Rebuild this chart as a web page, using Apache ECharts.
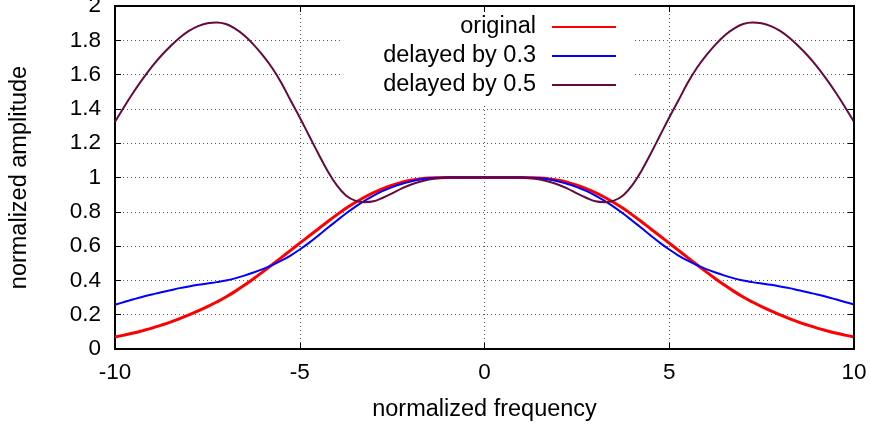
<!DOCTYPE html>
<html><head><meta charset="utf-8">
<script src="https://cdn.jsdelivr.net/npm/echarts@6/dist/echarts.min.js"></script>
<style>html,body{margin:0;padding:0;background:#fff}#c{width:870px;height:428px}</style>
</head><body><div id="c"></div>
<script>
const freq = [-10,-9.75,-9.5,-9.25,-9,-8.75,-8.5,-8.25,-8,-7.75,-7.5,-7.25,-7,-6.75,-6.5,-6.25,-6,-5.75,-5.5,-5.25,
  -5,-4.75,-4.5,-4.25,-4,-3.75,-3.5,-3.25,-3,-2.75,-2.5,-2.25,-2,-1.75,-1.5,-1.25,-1,-0.75,-0.5,-0.25,0,
  0.25,0.5,0.75,1,1.25,1.5,1.75,2,2.25,2.5,2.75,3,3.25,3.5,3.75,4,4.25,4.5,4.75,
  5,5.25,5.5,5.75,6,6.25,6.5,6.75,7,7.25,7.5,7.75,8,8.25,8.5,8.75,9,9.25,9.5,9.75,10];
const original = [0.070,0.081,0.093,0.107,0.122,0.139,0.157,0.177,0.199,0.222,0.247,0.274,0.303,0.336,0.372,0.410,0.450,0.491,0.533,0.575,
  0.617,0.659,0.700,0.742,0.782,0.820,0.854,0.885,0.912,0.935,0.955,0.971,0.984,0.992,0.997,0.999,1,1,1,1,1,
  1,1,1,1,0.999,0.997,0.992,0.984,0.971,0.955,0.935,0.912,0.885,0.854,0.820,0.782,0.742,0.700,0.659,
  0.617,0.575,0.533,0.491,0.450,0.410,0.372,0.336,0.303,0.274,0.247,0.222,0.199,0.177,0.157,0.139,0.122,0.107,0.093,0.081,0.070];
const delayed03 = [0.258,0.274,0.290,0.305,0.318,0.331,0.343,0.355,0.365,0.374,0.382,0.390,0.399,0.412,0.428,0.446,0.466,0.489,0.515,0.545,
  0.580,0.619,0.661,0.705,0.748,0.790,0.829,0.864,0.895,0.922,0.944,0.962,0.977,0.988,0.995,0.999,1,1,1,1,1,
  1,1,1,1,0.999,0.995,0.988,0.977,0.962,0.944,0.922,0.895,0.864,0.829,0.790,0.748,0.705,0.661,0.619,
  0.580,0.545,0.515,0.489,0.466,0.446,0.428,0.412,0.399,0.390,0.382,0.374,0.365,0.355,0.343,0.331,0.318,0.305,0.290,0.274,0.260];
const delayed05 = [1.325,1.413,1.497,1.575,1.647,1.71,1.765,1.815,1.855,1.883,1.899,1.904,1.895,1.868,1.828,1.775,1.712,1.64,1.553,1.45,
  1.35,1.245,1.14,1.04,0.955,0.895,0.865,0.856,0.861,0.882,0.907,0.935,0.958,0.975,0.988,0.996,0.999,1,1,1,1,
  1,1,1,0.999,0.996,0.988,0.975,0.958,0.935,0.907,0.882,0.861,0.856,0.865,0.895,0.955,1.04,1.14,1.245,
  1.35,1.45,1.553,1.64,1.712,1.775,1.828,1.868,1.895,1.904,1.899,1.883,1.855,1.815,1.765,1.71,1.647,1.575,1.497,1.413,1.325];
const seriesNames = ['original','delayed by 0.3','delayed by 0.5'];
const xTitle = 'normalized frequency';
const yTitle = 'normalized amplitude';

const font = "'Liberation Sans', Arial, Helvetica, sans-serif";
const pairs = ys => freq.map((x, i) => [x, ys[i]]);
const axisLine = {show:true, onZero:false, lineStyle:{color:'#000', width:2}};
const axisTick = {show:true, inside:true, length:6, lineStyle:{color:'#000', width:1}};
const grid = {show:true, lineStyle:{color:'#555', width:1, type:[1,3]}};
const label = {color:'#000', fontSize:22.5, fontFamily:font};
const nameStyle = {color:'#000', fontSize:23.5, fontFamily:font};

const chart = echarts.init(document.getElementById('c'), null, {renderer:'canvas'});
chart.setOption({
  animation:false,
  backgroundColor:'#fff',
  grid:{left:115, right:16, top:6, bottom:79, show:true, borderColor:'#000', borderWidth:2,
        containLabel:false, outerBoundsMode:'none'},
  legend:{
    orient:'vertical', align:'right', right:238, top:7,
    itemWidth:64, itemHeight:18, itemGap:5,
    backgroundColor:'#fff', padding:[8,15,6,40],
    itemStyle:{opacity:0},
    textStyle:{fontSize:23.5, fontFamily:font, color:'#000', padding:[0,11,0,0]},
    data:seriesNames
  },
  xAxis:[
    {type:'value', min:-10, max:10, interval:5, position:'bottom',
     axisLine, axisTick, axisLabel:Object.assign({margin:12}, label), splitLine:grid,
     name:xTitle, nameLocation:'middle', nameGap:49, nameTextStyle:nameStyle},
    {type:'value', min:-10, max:10, interval:5, position:'top', z:6,
     axisLine, axisTick, axisLabel:{show:false}, splitLine:{show:false}}
  ],
  yAxis:[
    {type:'value', min:0, max:2, interval:0.2, position:'left',
     axisLine, axisTick, axisLabel:Object.assign({margin:14}, label), splitLine:grid,
     name:yTitle, nameLocation:'middle', nameGap:83, nameTextStyle:nameStyle},
    {type:'value', min:0, max:2, interval:0.2, position:'right', z:6,
     axisLine, axisTick, axisLabel:{show:false}, splitLine:{show:false}}
  ],
  series:[
    {name:seriesNames[0], type:'line', data:pairs(original), smooth:0.4, symbol:'none',
     lineStyle:{color:'#ff0000', width:3}, itemStyle:{color:'#ff0000'}},
    {name:seriesNames[1], type:'line', data:pairs(delayed03), smooth:0.4, symbol:'none',
     lineStyle:{color:'#0000ff', width:2}, itemStyle:{color:'#0000ff'}},
    {name:seriesNames[2], type:'line', data:pairs(delayed05), smooth:0.4, symbol:'none',
     lineStyle:{color:'#65093f', width:2}, itemStyle:{color:'#65093f'}}
  ]
});
</script></body></html>
